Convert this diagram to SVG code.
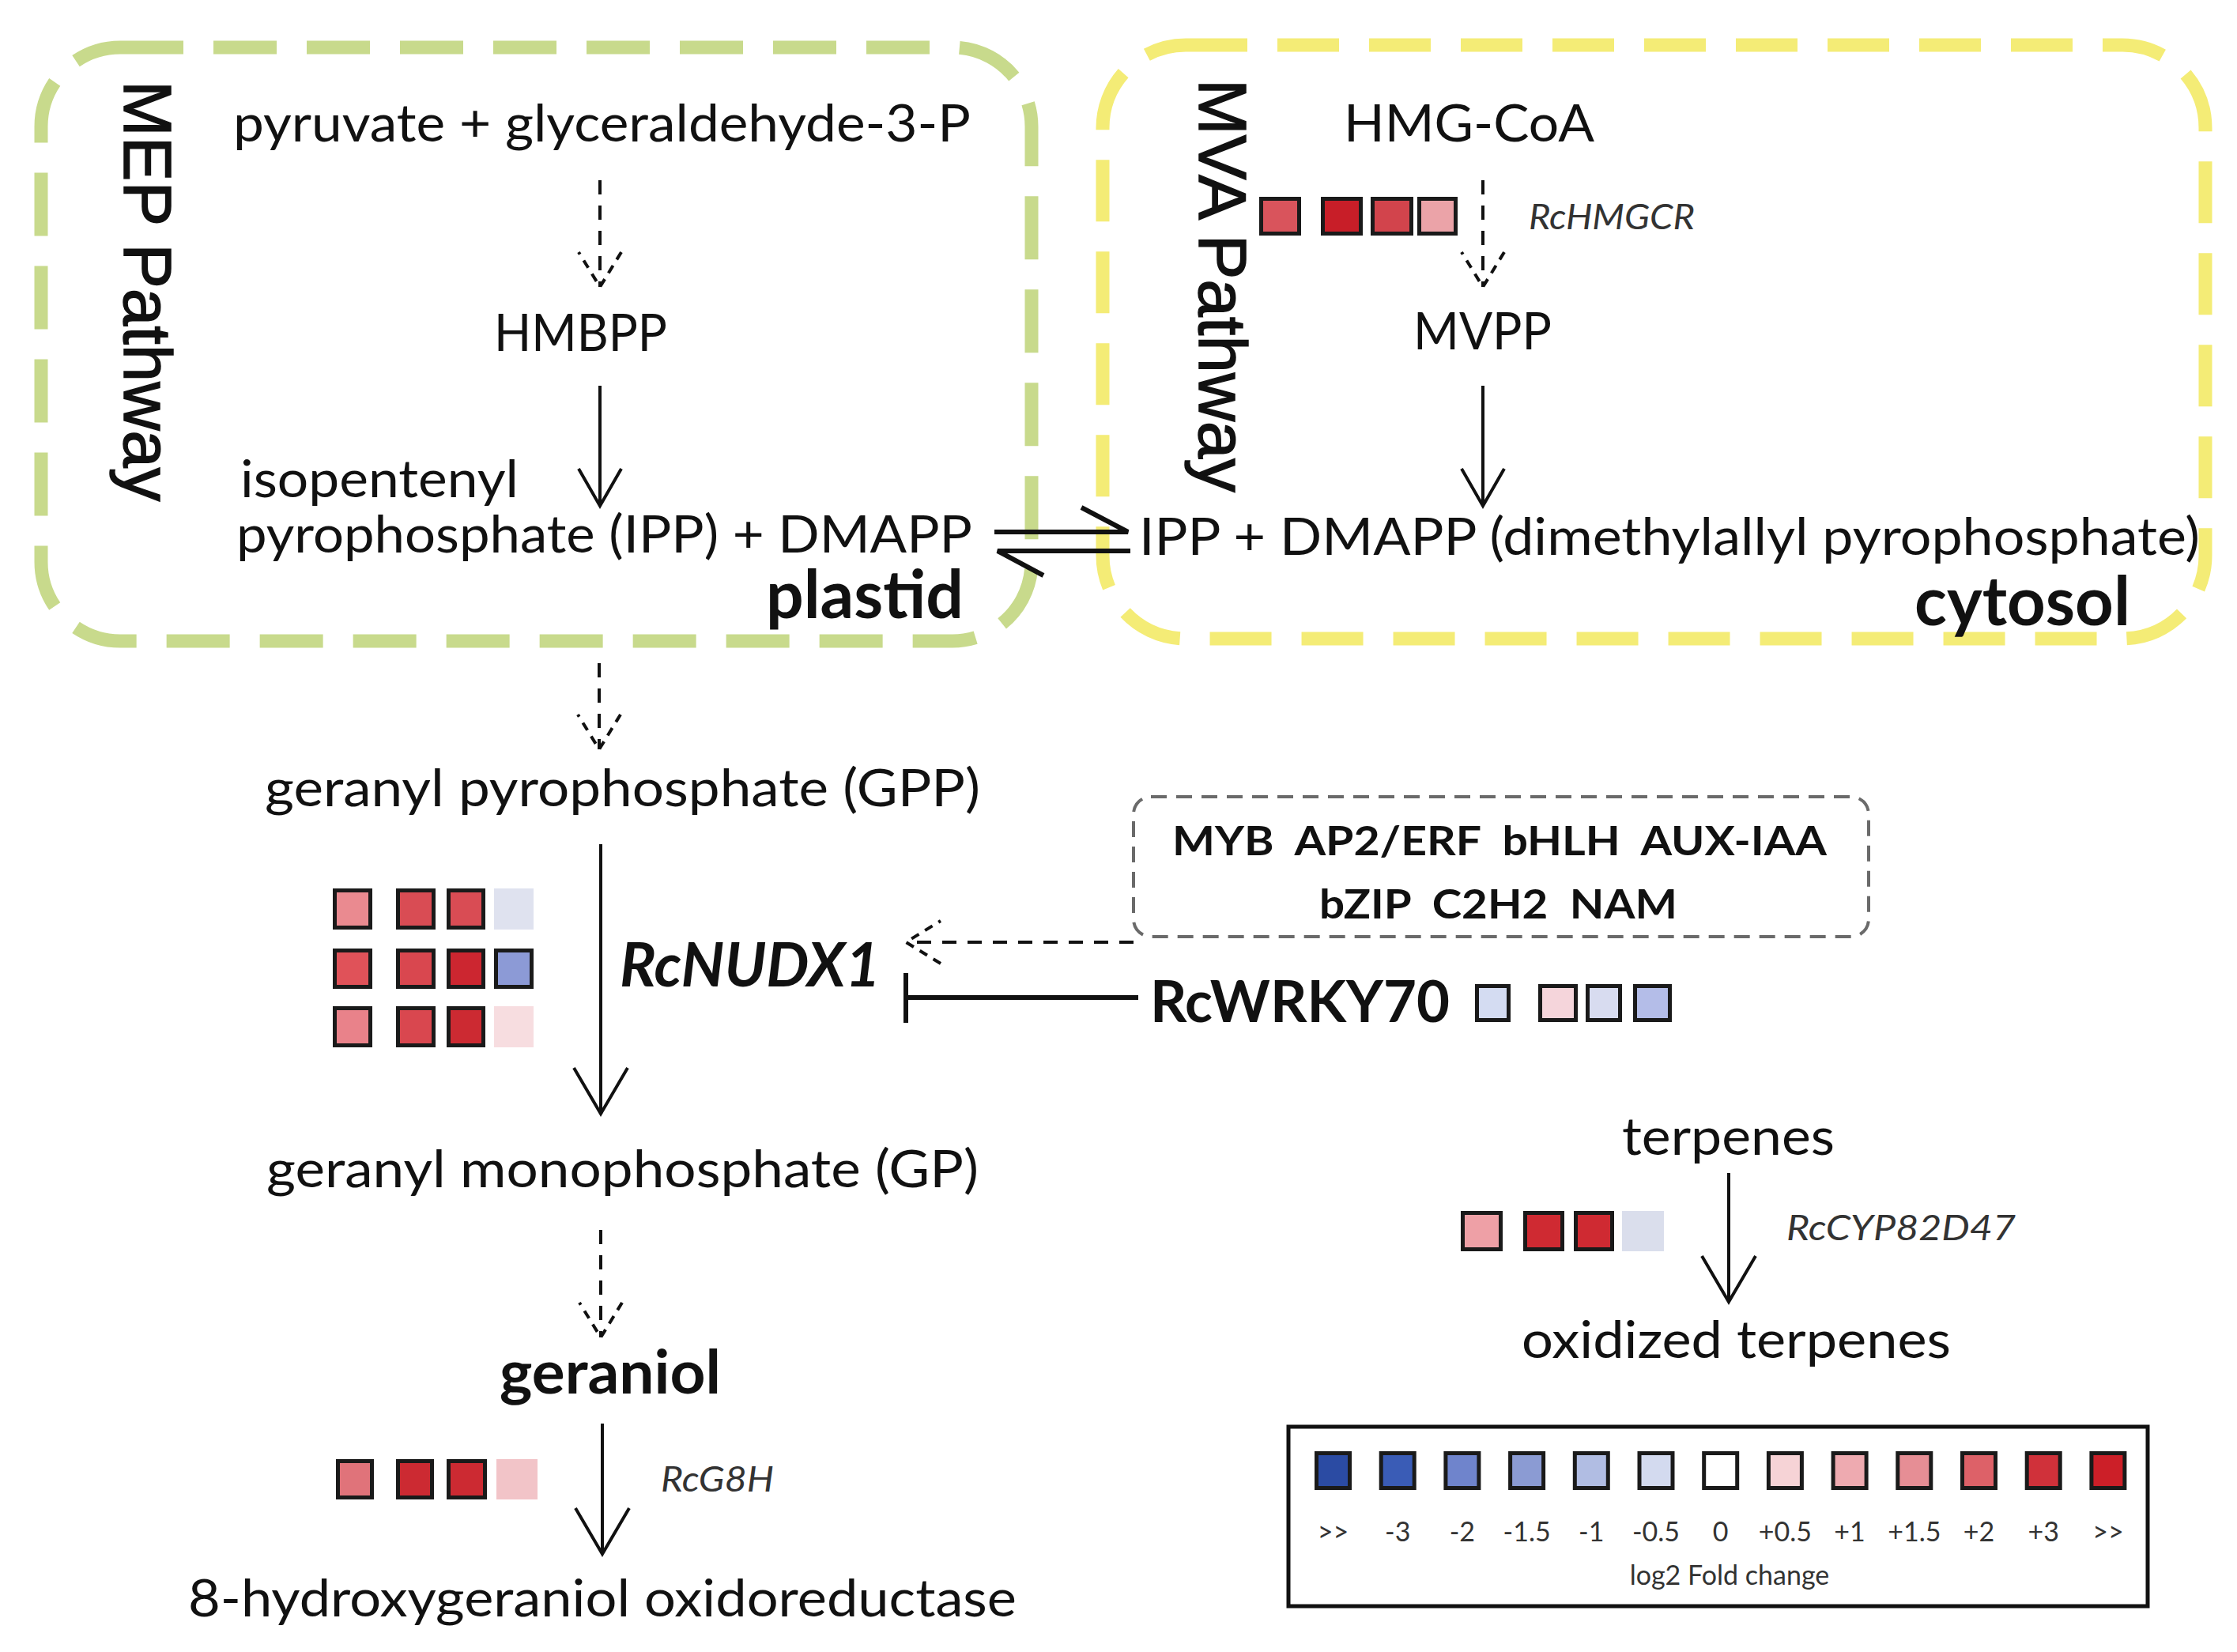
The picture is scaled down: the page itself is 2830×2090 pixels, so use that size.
<svg xmlns="http://www.w3.org/2000/svg" width="2830" height="2090" viewBox="0 0 2830 2090">
<style>
.t{font-family:Lato,"Open Sans","DejaVu Sans",sans-serif;font-size:66px;fill:#111}
.b{font-family:Lato,"Open Sans","DejaVu Sans",sans-serif;font-weight:bold;fill:#111}
.i{font-family:Lato,"Open Sans","DejaVu Sans",sans-serif;font-style:italic;font-size:44px;fill:#333}
.rot{font-family:"Liberation Sans",Arial,sans-serif;font-size:85px;fill:#111;stroke:#111;stroke-width:1.5}
.lg{font-family:Lato,"Open Sans","DejaVu Sans",sans-serif;font-size:34px;fill:#333;text-anchor:middle}
.sq{stroke:#1a1a1a;stroke-width:5}
.ln{stroke:#111;stroke-width:4;fill:none}
.dl{stroke:#111;stroke-width:4;fill:none;stroke-dasharray:18 14}
.thick{stroke:#111;stroke-width:6;fill:none}
</style>
<defs>
<marker id="vs" markerUnits="userSpaceOnUse" markerWidth="120" markerHeight="120" refX="0" refY="0" viewBox="-60 -60 120 120" orient="auto" overflow="visible">
<path d="M-47,-27 L0,0 L-47,27" fill="none" stroke="#111" stroke-width="4"/>
</marker>
<marker id="vl" markerUnits="userSpaceOnUse" markerWidth="140" markerHeight="140" refX="0" refY="0" viewBox="-70 -70 140 140" orient="auto" overflow="visible">
<path d="M-58,-34 L0,0 L-58,34" fill="none" stroke="#111" stroke-width="4"/>
</marker>
<marker id="vd" markerUnits="userSpaceOnUse" markerWidth="120" markerHeight="120" refX="0" refY="0" viewBox="-60 -60 120 120" orient="auto" overflow="visible">
<path d="M-44,-27 L0,0 L-44,27" fill="none" stroke="#111" stroke-width="4" stroke-dasharray="11 9"/>
</marker>
</defs>
<rect width="2830" height="2090" fill="#fff"/>

<g id="plastid-compartment">
<rect x="52" y="60" width="1253" height="751" rx="100" ry="100" fill="none" stroke="#c8da8c" stroke-width="17" stroke-dasharray="80 38"/>
<text class="rot" transform="translate(157,102) rotate(90)">MEP Pathway</text>
<text class="b" x="969" y="782" font-size="84" textLength="250" lengthAdjust="spacingAndGlyphs">plastid</text>
</g>

<g id="cytosol-compartment">
<rect x="1395" y="57" width="1395" height="751" rx="105" ry="105" fill="none" stroke="#f4ec76" stroke-width="17" stroke-dasharray="78 38"/>
<text class="rot" transform="translate(1517,100) rotate(90)">MVA Pathway</text>
<text class="b" x="2422" y="791" font-size="86" textLength="273" lengthAdjust="spacingAndGlyphs">cytosol</text>
</g>

<g id="node-pyruvate"><text class="t" x="295" y="179" textLength="933" lengthAdjust="spacingAndGlyphs">pyruvate + glyceraldehyde-3-P</text></g>
<g id="node-hmbpp"><text class="t" x="625" y="444" textLength="219" lengthAdjust="spacingAndGlyphs">HMBPP</text></g>
<g id="node-ipp-plastid">
<text class="t" x="304" y="629" textLength="352" lengthAdjust="spacingAndGlyphs">isopentenyl</text>
<text class="t" x="299" y="699" textLength="931" lengthAdjust="spacingAndGlyphs">pyrophosphate (IPP) + DMAPP</text>
</g>
<g id="node-hmgcoa"><text class="t" x="1700" y="179" textLength="317" lengthAdjust="spacingAndGlyphs">HMG-CoA</text></g>
<g id="node-rchmgcr">
<rect class="sq" x="1595.5" y="251.5" width="48" height="44" fill="#d9545c"/>
<rect class="sq" x="1673.5" y="251.5" width="48" height="44" fill="#c81e28"/>
<rect class="sq" x="1736.5" y="251.5" width="49" height="44" fill="#d2444c"/>
<rect class="sq" x="1795.5" y="251.5" width="46" height="44" fill="#eba3a8"/>
<text class="i" x="1934" y="290" textLength="210" lengthAdjust="spacingAndGlyphs">RcHMGCR</text>
</g>
<g id="node-mvpp"><text class="t" x="1788" y="442" textLength="175" lengthAdjust="spacingAndGlyphs">MVPP</text></g>
<g id="node-ipp-cytosol"><text class="t" x="1441" y="702" textLength="1342" lengthAdjust="spacingAndGlyphs">IPP + DMAPP (dimethylallyl pyrophosphate)</text></g>

<g id="node-gpp"><text class="t" x="335" y="1020" textLength="905" lengthAdjust="spacingAndGlyphs">geranyl pyrophosphate (GPP)</text></g>
<g id="node-rcnudx1">
<rect class="sq" x="423.5" y="1126.5" width="45" height="47" fill="#ea8a90"/>
<rect class="sq" x="503.5" y="1126.5" width="45" height="47" fill="#d94c54"/>
<rect class="sq" x="567.5" y="1126.5" width="44" height="47" fill="#d94c54"/>
<rect x="625" y="1124" width="50" height="52" fill="#dfe2ef"/>
<rect class="sq" x="423.5" y="1202.5" width="45" height="46" fill="#e05259"/>
<rect class="sq" x="503.5" y="1202.5" width="45" height="46" fill="#d9474f"/>
<rect class="sq" x="567.5" y="1202.5" width="44" height="46" fill="#cc2630"/>
<rect class="sq" x="627.5" y="1202.5" width="45" height="46" fill="#8c9ad6"/>
<rect class="sq" x="423.5" y="1275.5" width="45" height="47" fill="#e9828a"/>
<rect class="sq" x="503.5" y="1275.5" width="45" height="47" fill="#d9474f"/>
<rect class="sq" x="567.5" y="1275.5" width="44" height="47" fill="#cc2a32"/>
<rect x="625" y="1273" width="50" height="52" fill="#f7dde0"/>
<text class="b" x="784" y="1248" font-size="76" font-style="italic" textLength="330" lengthAdjust="spacingAndGlyphs">RcNUDX1</text>
</g>
<g id="node-tf-box">
<rect x="1434" y="1008" width="930" height="177" rx="22" ry="22" fill="none" stroke="#6a6a6a" stroke-width="4" stroke-dasharray="20 12"/>
<text class="b" x="1483" y="1082" font-size="52" textLength="828" lengthAdjust="spacingAndGlyphs">MYB&#160; AP2/ERF&#160; bHLH&#160; AUX-IAA</text>
<text class="b" x="1669" y="1162" font-size="52" textLength="453" lengthAdjust="spacingAndGlyphs">bZIP&#160; C2H2&#160; NAM</text>
</g>
<g id="node-rcwrky70">
<text class="b" x="1455" y="1293" font-size="72" textLength="379" lengthAdjust="spacingAndGlyphs">RcWRKY70</text>
<rect class="sq" x="1868.5" y="1247.5" width="40" height="43" fill="#d4dcf2"/>
<rect class="sq" x="1948.5" y="1247.5" width="45" height="43" fill="#f5d5db"/>
<rect class="sq" x="2008.5" y="1247.5" width="41" height="43" fill="#d8dcf0"/>
<rect class="sq" x="2068.5" y="1247.5" width="44" height="43" fill="#b4bde8"/>
</g>
<g id="node-gp"><text class="t" x="337" y="1502" textLength="901" lengthAdjust="spacingAndGlyphs">geranyl monophosphate (GP)</text></g>
<g id="node-geraniol"><text class="b" x="632" y="1763" font-size="76" textLength="280" lengthAdjust="spacingAndGlyphs">geraniol</text></g>
<g id="node-rcg8h">
<rect class="sq" x="427.5" y="1848.5" width="43" height="46" fill="#e0737a"/>
<rect class="sq" x="503.5" y="1848.5" width="43" height="46" fill="#cc2a32"/>
<rect class="sq" x="567.5" y="1848.5" width="46" height="46" fill="#cc2a32"/>
<rect x="628" y="1846" width="52" height="51" fill="#f2c4c8"/>
<text class="i" x="836" y="1887" textLength="143" lengthAdjust="spacingAndGlyphs">RcG8H</text>
</g>
<g id="node-8-hydroxygeraniol"><text class="t" x="238" y="2045" textLength="1048" lengthAdjust="spacingAndGlyphs">8-hydroxygeraniol oxidoreductase</text></g>

<g id="node-terpenes"><text class="t" x="2052" y="1461" textLength="269" lengthAdjust="spacingAndGlyphs">terpenes</text></g>
<g id="node-rccyp82d47">
<rect class="sq" x="1850.5" y="1534.5" width="48" height="46" fill="#eea0a6"/>
<rect class="sq" x="1929.5" y="1534.5" width="47" height="46" fill="#cf2a32"/>
<rect class="sq" x="1993.5" y="1534.5" width="46" height="46" fill="#cf2a32"/>
<rect x="2052" y="1532" width="53" height="51" fill="#dadeec"/>
<text class="i" x="2260" y="1569" textLength="290" lengthAdjust="spacingAndGlyphs">RcCYP82D47</text>
</g>
<g id="node-oxidized-terpenes"><text class="t" x="1925" y="1718" textLength="543" lengthAdjust="spacingAndGlyphs">oxidized terpenes</text></g>

<g id="legend">
<rect x="1630" y="1805" width="1087" height="227" fill="none" stroke="#111" stroke-width="5"/>
<g class="sq">
<rect x="1665.5" y="1838.5" width="42" height="44" fill="#2b4ba3"/>
<rect x="1747.2" y="1838.5" width="42" height="44" fill="#3a5cb6"/>
<rect x="1828.9" y="1838.5" width="42" height="44" fill="#6f84cc"/>
<rect x="1910.6" y="1838.5" width="42" height="44" fill="#8b9bd3"/>
<rect x="1992.3" y="1838.5" width="42" height="44" fill="#b1bde3"/>
<rect x="2074" y="1838.5" width="42" height="44" fill="#d3daef"/>
<rect x="2155.7" y="1838.5" width="42" height="44" fill="#ffffff"/>
<rect x="2237.4" y="1838.5" width="42" height="44" fill="#f6d3d6"/>
<rect x="2319.1" y="1838.5" width="42" height="44" fill="#eeaab0"/>
<rect x="2400.8" y="1838.5" width="42" height="44" fill="#e68e95"/>
<rect x="2482.5" y="1838.5" width="42" height="44" fill="#dd6168"/>
<rect x="2564.2" y="1838.5" width="42" height="44" fill="#d0313a"/>
<rect x="2645.9" y="1838.5" width="42" height="44" fill="#cc1f28"/>
</g>
<text class="lg" x="1686.5" y="1950">&gt;&gt;</text>
<text class="lg" x="1768.2" y="1950">-3</text>
<text class="lg" x="1849.9" y="1950">-2</text>
<text class="lg" x="1931.6" y="1950">-1.5</text>
<text class="lg" x="2013.3" y="1950">-1</text>
<text class="lg" x="2095" y="1950">-0.5</text>
<text class="lg" x="2176.7" y="1950">0</text>
<text class="lg" x="2258.4" y="1950">+0.5</text>
<text class="lg" x="2340.1" y="1950">+1</text>
<text class="lg" x="2421.8" y="1950">+1.5</text>
<text class="lg" x="2503.5" y="1950">+2</text>
<text class="lg" x="2585.2" y="1950">+3</text>
<text class="lg" x="2666.9" y="1950">&gt;&gt;</text>
<text class="lg" x="2188" y="2005" font-size="38">log2 Fold change</text>
</g>

<g id="connectors">
<line class="dl" x1="759" y1="228" x2="759" y2="363" marker-end="url(#vd)"/>
<line class="ln" x1="759" y1="488" x2="759" y2="640" marker-end="url(#vs)"/>
<line class="dl" x1="1876" y1="228" x2="1876" y2="363" marker-end="url(#vd)"/>
<line class="ln" x1="1876" y1="488" x2="1876" y2="640" marker-end="url(#vs)"/>
<path class="thick" d="M1258,673 L1427,673 L1368,642"/>
<path class="thick" d="M1430,697 L1262,697 L1320,728"/>
<line class="dl" x1="758" y1="839" x2="758" y2="948" marker-end="url(#vd)"/>
<line class="ln" x1="760" y1="1068" x2="760" y2="1409" marker-end="url(#vl)"/>
<line class="dl" x1="1434" y1="1192" x2="1146" y2="1192" marker-end="url(#vd)"/>
<line class="thick" x1="1440" y1="1262" x2="1146" y2="1262"/>
<line class="thick" x1="1146" y1="1231" x2="1146" y2="1294"/>
<line class="dl" x1="760" y1="1556" x2="760" y2="1692" marker-end="url(#vd)"/>
<line class="ln" x1="762" y1="1801" x2="762" y2="1966" marker-end="url(#vl)"/>
<line class="ln" x1="2187" y1="1484" x2="2187" y2="1647" marker-end="url(#vl)"/>
</g>
</svg>
